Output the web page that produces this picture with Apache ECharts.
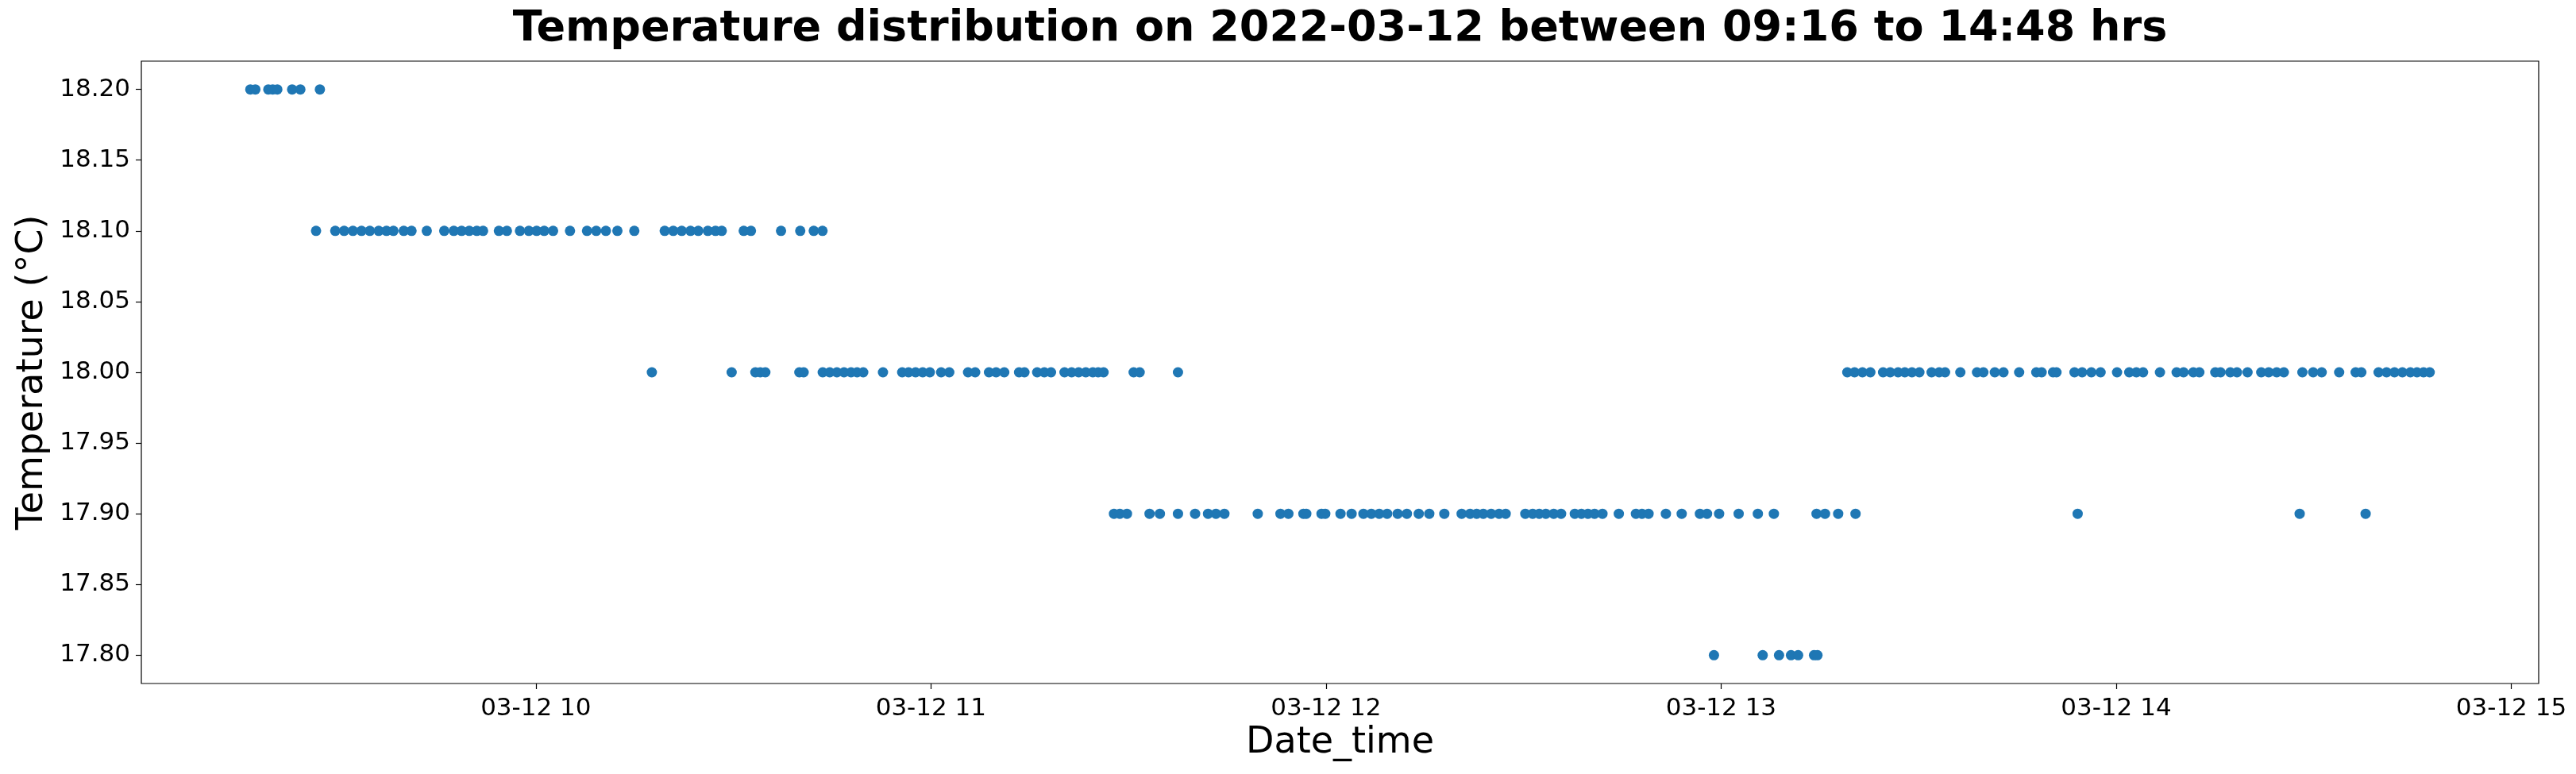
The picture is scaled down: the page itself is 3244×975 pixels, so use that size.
<!DOCTYPE html>
<html>
<head>
<meta charset="utf-8">
<script src="https://cdn.jsdelivr.net/npm/echarts@6/dist/echarts.min.js"></script>
<style>
html,body{margin:0;padding:0;background:#fff;}
#chart{width:3244px;height:975px;}
</style>
</head>
<body>
<div id="chart"></div>
<script>
// ---------- data ----------
const chartDate = '2022-03-12';
const titleText = 'Temperature distribution on 2022-03-12 between 09:16 to 14:48 hrs';
const xAxisName = 'Date_time';
const yAxisName = 'Temperature (°C)';
const yTickValues = [17.80, 17.85, 17.90, 17.95, 18.00, 18.05, 18.10, 18.15, 18.20];
const xTickHours = [10, 11, 12, 13, 14, 15];

const times_18_20 = ['09:16:38','09:17:24','09:19:22','09:20:02','09:20:44','09:22:59','09:24:14','09:27:12'];

const times_18_10 = ['09:26:37','09:29:32','09:30:53','09:32:13','09:33:31','09:34:47','09:36:08','09:37:19',
  '09:38:22','09:39:56','09:41:07','09:43:26','09:46:05','09:47:32','09:48:43','09:49:53','09:51:02',
  '09:51:59','09:54:23','09:55:36','09:57:35','09:58:56','10:00:07','10:01:16','10:02:37','10:05:11',
  '10:07:46','10:09:10','10:10:38','10:12:23','10:14:57','10:19:34','10:20:52','10:22:09','10:23:29',
  '10:24:40','10:26:07','10:27:17','10:28:14','10:31:34','10:32:40','10:37:14','10:40:09','10:42:12','10:43:32'];

const times_18_00 = ['10:17:37','10:29:44','10:33:20','10:34:05','10:34:51','10:40:01','10:40:40','10:43:34',
  '10:44:38','10:45:43','10:46:48','10:47:52','10:48:47','10:49:43','10:52:43','10:55:38','10:56:36',
  '10:57:40','10:58:45','10:59:50','11:01:33','11:02:47','11:05:38','11:06:43','11:08:49','11:09:54',
  '11:11:08','11:13:23','11:14:12','11:16:08','11:17:13','11:18:14','11:20:17','11:21:22','11:22:26',
  '11:23:31','11:24:35','11:25:24','11:26:13','11:30:47','11:31:42','11:37:31',
  '13:19:10','13:20:16','13:21:28','13:22:40','13:24:36','13:25:41','13:26:53','13:27:54','13:28:59',
  '13:30:07','13:31:58','13:33:07','13:34:01','13:36:20','13:38:52','13:39:50','13:41:34','13:42:53',
  '13:45:16','13:47:52','13:48:41','13:50:25','13:50:56','13:53:40','13:54:50','13:56:14','13:57:38',
  '14:00:08','14:01:59','14:03:04','14:04:05','14:06:39','14:09:11','14:10:14','14:11:43','14:12:38',
  '14:15:03','14:15:51','14:17:20','14:18:21','14:19:57','14:22:02','14:23:10','14:24:23','14:25:28',
  '14:28:17','14:29:55','14:31:13','14:33:52','14:36:22','14:37:14','14:39:51','14:41:04','14:42:16',
  '14:43:28','14:44:41','14:45:41','14:46:41','14:47:37'];

const times_17_90 = ['11:27:48','11:28:41','11:29:46','11:33:12','11:34:46','11:37:31','11:40:07','11:42:05',
  '11:43:17','11:44:34','11:49:38','11:53:05','11:54:17','11:56:34','11:57:00','11:59:19','11:59:53',
  '12:02:12','12:03:53','12:05:41','12:06:53','12:08:05','12:09:17','12:10:53','12:12:17','12:14:05',
  '12:15:41','12:17:58','12:20:36','12:21:53','12:22:53','12:23:53','12:25:05','12:26:17','12:27:17',
  '12:30:16','12:31:23','12:32:23','12:33:23','12:34:35','12:35:42','12:37:47','12:38:47','12:39:47',
  '12:40:47','12:41:59','12:44:28','12:47:04','12:47:59','12:48:59','12:51:37','12:54:01','12:56:47',
  '12:57:52','12:59:42','13:02:40','13:05:35','13:08:01','13:14:30','13:15:47','13:17:47','13:20:25',
  '13:54:09','14:27:52','14:37:53'];

const times_17_80 = ['12:58:55','13:06:19','13:08:48','13:10:37','13:11:42','13:14:07','13:14:38'];

const levels = [18.20, 18.10, 18.00, 17.90, 17.80];
const levelTimes = [times_18_20, times_18_10, times_18_00, times_17_90, times_17_80];

// ---------- build ----------
function ts(t) { return new Date(chartDate + 'T' + t).getTime(); }
const points = [];
levels.forEach((lv, i) => levelTimes[i].forEach(t => points.push([ts(t), lv])));

const xs = points.map(p => p[0]);
const xMinData = Math.min(...xs), xMaxData = Math.max(...xs);
const xPad = (xMaxData - xMinData) * 0.05;
const yPad = (Math.max(...levels) - Math.min(...levels)) * 0.05;
const xTickValues = xTickHours.map(h => ts(String(h).padStart(2, '0') + ':00:00'));

const plotLeft = 178, plotRight = 3197, plotTop = 77, plotBottom = 861;
const font = "'DejaVu Sans', sans-serif";

const chart = echarts.init(document.getElementById('chart'), null, {renderer: 'canvas'});
chart.setOption({
  animation: false,
  backgroundColor: '#fff',
  grid: {
    left: plotLeft, right: 3244 - plotRight, top: plotTop, bottom: 975 - plotBottom,
    show: true, borderColor: '#000', borderWidth: 1.2, backgroundColor: 'transparent',
    containLabel: false, outerBoundsMode: 'none'
  },
  xAxis: {
    type: 'value',
    min: xMinData - xPad,
    max: xMaxData + xPad,
    scale: true,
    axisLine: {show: false},
    splitLine: {show: false},
    axisTick: {show: true, customValues: xTickValues, length: 7, lineStyle: {color: '#000', width: 1.2}},
    axisLabel: {
      customValues: xTickValues,
      fontSize: 31, fontFamily: font, color: '#000', margin: 16,
      formatter: v => {
        const d = new Date(v);
        return String(d.getMonth() + 1).padStart(2, '0') + '-' + String(d.getDate()).padStart(2, '0') + ' ' + String(d.getHours()).padStart(2, '0');
      }
    }
  },
  yAxis: {
    type: 'value',
    min: Math.min(...levels) - yPad,
    max: Math.max(...levels) + yPad,
    scale: true,
    axisLine: {show: false},
    splitLine: {show: false},
    axisTick: {show: true, customValues: yTickValues, length: 7, lineStyle: {color: '#000', width: 1.2}},
    axisLabel: {
      customValues: yTickValues,
      fontSize: 31, fontFamily: font, color: '#000', margin: 14,
      formatter: v => Number(v).toFixed(2)
    }
  },
  series: [{
    type: 'scatter',
    data: points,
    symbol: 'circle',
    symbolSize: 13,
    itemStyle: {color: '#1f77b4', opacity: 1},
    emphasis: {disabled: true}
  }],
  graphic: [
    {type: 'text', x: (plotLeft + plotRight) / 2, y: 37,
      style: {text: titleText, font: "bold 54px 'DejaVu Sans', sans-serif", fill: '#000', align: 'center', verticalAlign: 'middle'}},
    {type: 'text', x: (plotLeft + plotRight) / 2, y: 936,
      style: {text: xAxisName, font: "46px 'DejaVu Sans', sans-serif", fill: '#000', align: 'center', verticalAlign: 'middle'}},
    {type: 'text', x: 41, y: (plotTop + plotBottom) / 2, rotation: Math.PI / 2,
      style: {text: yAxisName, font: "46px 'DejaVu Sans', sans-serif", fill: '#000', align: 'center', verticalAlign: 'middle'}}
  ]
});
</script>
</body>
</html>
